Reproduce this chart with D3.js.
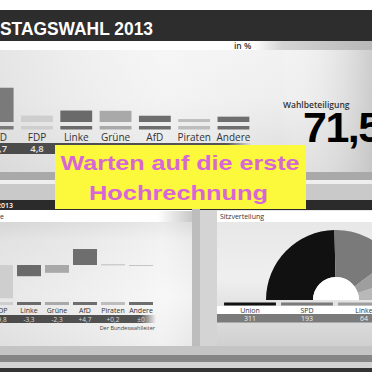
<!DOCTYPE html>
<html>
<head>
<meta charset="utf-8">
<script src="https://cdn.jsdelivr.net/npm/d3@7"></script>
<style>
  body { margin: 0; background: #fff; overflow: hidden; }
  svg { display: block; }
</style>
</head>
<body>
<div id="chart"></div>
<script>
// Data
const parties = ["CDU/CSU", "SPD", "FDP", "Linke", "Grüne", "AfD", "Piraten", "Andere"];
const shares = [41.5, 25.7, 4.8, 8.6, 8.4, 4.7, 2.2, 4.0];
const shareLabels = ["41,5", "25,7", "4,8", "8,6", "8,4", "4,7", "2,2", "4,0"];
const changes = [7.7, 2.7, -9.8, -3.3, -2.3, 4.7, 0.2, 0];
const changeLabels = ["+7,7", "+2,7", "-9,8", "-3,3", "-2,3", "+4,7", "+0,2", "±0"];
const seatParties = ["Union", "SPD", "Linke", "Grüne"];
const seats = [311, 193, 64, 63];
const turnout = "71,5";

const partyColor = d3.scaleOrdinal(parties,
  ["#222", "#7a7a7a", "#cecece", "#6a6a6a", "#a9a9a9", "#6e6e6e", "#bdbdbd", "#6e6e6e"]);
const seatColor = d3.scaleOrdinal(seatParties, ["#111", "#7a7a7a", "#9e9e9e", "#b8b8b8"]);

const W = 372, H = 372;
const font = "'Open Sans', 'Liberation Sans', sans-serif";
const svg = d3.select("#chart").append("svg").attr("width", W).attr("height", H);
const defs = svg.append("defs");

function linGrad(id, stops, vertical) {
  const g = defs.append("linearGradient").attr("id", id)
    .attr("x1", 0).attr("y1", 0)
    .attr("x2", vertical ? 0 : 1).attr("y2", vertical ? 1 : 0);
  stops.forEach(([o, c, a]) => g.append("stop")
    .attr("offset", o).attr("stop-color", c).attr("stop-opacity", a == null ? 1 : a));
}
linGrad("topV", [[0, "#f3f3f3"], [0.45, "#eeeeee"], [1, "#dcdcdc"]], true);
linGrad("topH", [[0, "#d8d8d8", 0.5], [0.45, "#ffffff", 0.3], [0.75, "#ffffff", 0], [1, "#bdbdbd", 0.7]]);
linGrad("pctStrip", [[0, "#fff"], [0.68, "#fff"], [0.76, "#d4d4d4"], [1, "#b8b8b8"]]);
linGrad("valBand", [[0, "#4a4a4a"], [0.9, "#555"], [1, "#555", 0]]);
linGrad("subStrip", [[0, "#fff"], [0.82, "#fff"], [1, "#c8c8c8"]]);
linGrad("lowV", [[0, "#d2d2d2"], [0.15, "#e6e6e6"], [0.6, "#f0f0f0"], [1, "#e2e2e2"]], true);
linGrad("lowH", [[0, "#dcdcdc", 0.4], [0.85, "#fff", 0.5], [1, "#ffffff", 0.2]]);
linGrad("seatV", [[0, "#e6e6e6"], [0.5, "#efefef"], [1, "#d0d0d0"]], true);

// ---- backgrounds
svg.append("rect").attr("width", W).attr("height", H).attr("fill", "#fff");
svg.append("rect").attr("y", 10).attr("width", W).attr("height", 31).attr("fill", "#2d2d2d");
// title: only "...STAGSWAHL 2013" is in view, ending at x = 153
const title = svg.append("text").attr("y", 35)
  .attr("font-family", "'Liberation Sans', Arial, sans-serif").attr("font-weight", "bold")
  .attr("font-size", 18.5).attr("fill", "#fff").text("BUNDESTAGSWAHL 2013");
const titleNode = title.node();
const fullLen = titleNode.getComputedTextLength();
const hiddenLen = titleNode.getSubStringLength(0, 5);
const k = 153 / (fullLen - hiddenLen);
title.attr("x", -hiddenLen * k).attr("textLength", fullLen * k).attr("lengthAdjust", "spacingAndGlyphs");

svg.append("rect").attr("y", 41).attr("width", W).attr("height", 131).attr("fill", "url(#topV)");
svg.append("rect").attr("y", 41).attr("width", W).attr("height", 131).attr("fill", "url(#topH)");
svg.append("rect").attr("y", 41).attr("width", W).attr("height", 9).attr("fill", "url(#pctStrip)");
svg.append("text").attr("x", 234).attr("y", 49).attr("font-family", font).attr("font-weight", 600)
  .attr("font-size", 8.5).attr("fill", "#333").text("in %");

// separation between panels
svg.append("rect").attr("y", 172).attr("width", W).attr("height", 8).attr("fill", "#a9a9a9");
svg.append("rect").attr("y", 180).attr("width", W).attr("height", 4).attr("fill", "#eeeeee");
svg.append("rect").attr("y", 184).attr("width", W).attr("height", 16).attr("fill", "#c9c9c9");

// ---- top chart: results in %
const xTop = d3.scaleBand().domain(parties).range([-61.3, 253.1])
  .paddingInner(0.19).paddingOuter(0.095);
const yTop = d3.scaleLinear().domain([0, 30]).range([122, 82]);

const topG = svg.append("g");
topG.selectAll(".bar").data(parties).join("rect")
  .attr("x", d => xTop(d)).attr("width", xTop.bandwidth())
  .attr("y", (d, i) => yTop(shares[i]))
  .attr("height", (d, i) => yTop(0) - yTop(shares[i]))
  .attr("fill", d => partyColor(d));
topG.selectAll(".base").data(parties).join("rect")
  .attr("x", d => xTop(d)).attr("width", xTop.bandwidth())
  .attr("y", 126).attr("height", 3.5).attr("fill", d => partyColor(d));
topG.selectAll(".lab").data(parties).join("text")
  .attr("x", d => xTop(d) + xTop.bandwidth() / 2).attr("y", 141)
  .attr("text-anchor", "middle").attr("font-family", font).attr("font-size", 10)
  .attr("fill", "#333").text(d => d === "CDU/CSU" ? "Union" : d);
topG.append("rect").attr("x", 0).attr("y", 143).attr("width", 252).attr("height", 11)
  .attr("fill", "url(#valBand)");
topG.selectAll(".val").data(parties).join("text")
  .attr("x", d => xTop(d) + xTop.bandwidth() / 2).attr("y", 152)
  .attr("text-anchor", "middle").attr("font-family", font).attr("font-weight", 600)
  .attr("font-size", 9.5).attr("fill", "#e6e6e6").text((d, i) => shareLabels[i]);

// turnout
svg.append("text").attr("x", 283).attr("y", 108).attr("font-family", font).attr("font-weight", 600)
  .attr("font-size", 8.5).attr("fill", "#333").text("Wahlbeteiligung");
svg.append("text").attr("x", 303).attr("y", 142).attr("font-family", "'Liberation Sans', Arial, sans-serif")
  .attr("font-weight", "bold").attr("font-size", 43).attr("letter-spacing", -1.5)
  .attr("fill", "#000").text(turnout);

// ---- lower left panel: gains and losses
svg.append("rect").attr("y", 200).attr("width", 192).attr("height", 10).attr("fill", "#2b2b2b");
svg.append("text").attr("x", 13).attr("y", 208).attr("text-anchor", "end").attr("font-family", font)
  .attr("font-weight", 600).attr("font-size", 7).attr("fill", "#fff")
  .text("Gewinne und Verluste 2013");
svg.append("rect").attr("y", 211).attr("width", 192).attr("height", 11).attr("fill", "url(#subStrip)");
svg.append("text").attr("x", 4).attr("y", 219).attr("text-anchor", "end").attr("font-family", font)
  .attr("font-size", 7).attr("fill", "#333").text("Zweitstimme");
svg.append("rect").attr("y", 222).attr("width", 192).attr("height", 124).attr("fill", "url(#lowV)");
svg.append("rect").attr("y", 222).attr("width", 192).attr("height", 124).attr("fill", "url(#lowH)");
svg.append("rect").attr("x", 192).attr("y", 200).attr("width", 8).attr("height", 146).attr("fill", "#bdbdbd");

const xLow = d3.scaleBand().domain(parties).range([-69, 155])
  .paddingInner(0.143).paddingOuter(0.0714);
const yLow = d3.scaleLinear().domain([-10, 10]).range([299, 231]);

const lowG = svg.append("g");
lowG.selectAll(".bar").data(parties).join("rect")
  .attr("x", d => xLow(d)).attr("width", xLow.bandwidth())
  .attr("y", (d, i) => Math.min(yLow(changes[i]), yLow(0)))
  .attr("height", (d, i) => Math.max(1, Math.abs(yLow(changes[i]) - yLow(0))))
  .attr("fill", d => partyColor(d))
  .attr("opacity", (d, i) => changes[i] === 0 ? 0.35 : 1);
lowG.selectAll(".base").data(parties).join("rect")
  .attr("x", d => xLow(d)).attr("width", xLow.bandwidth())
  .attr("y", 302).attr("height", 3).attr("fill", d => partyColor(d));
lowG.selectAll(".lab").data(parties).join("text")
  .attr("x", d => xLow(d) + xLow.bandwidth() / 2).attr("y", 313)
  .attr("text-anchor", "middle").attr("font-family", font).attr("font-size", 7)
  .attr("fill", "#333").text(d => d === "CDU/CSU" ? "Union" : d);
lowG.append("rect").attr("x", 0).attr("y", 315).attr("width", 156).attr("height", 8)
  .attr("fill", "url(#valBand)");
lowG.selectAll(".val").data(parties).join("text")
  .attr("x", d => xLow(d) + xLow.bandwidth() / 2).attr("y", 321.5)
  .attr("text-anchor", "middle").attr("font-family", font).attr("font-size", 6.5)
  .attr("fill", "#ddd").text((d, i) => changeLabels[i]);
svg.append("text").attr("x", 155).attr("y", 330).attr("text-anchor", "end").attr("font-family", font)
  .attr("font-size", 5.5).attr("fill", "#444").text("Der Bundeswahlleiter");

// ---- lower right panel: seats
svg.append("rect").attr("x", 200).attr("y", 200).attr("width", 172).attr("height", 10).attr("fill", "#2b2b2b");
svg.append("rect").attr("x", 200).attr("y", 210).attr("width", 172).attr("height", 136).attr("fill", "url(#seatV)");
svg.append("rect").attr("x", 200).attr("y", 210).attr("width", 17).attr("height", 136).attr("fill", "#d4d4d4");
svg.append("rect").attr("x", 217).attr("y", 211).attr("width", 155).attr("height", 11).attr("fill", "#fff");
svg.append("text").attr("x", 220).attr("y", 219).attr("font-family", font).attr("font-size", 7)
  .attr("fill", "#333").text("Sitzverteilung");

const pie = d3.pie().sort(null).startAngle(-Math.PI / 2).endAngle(Math.PI / 2);
const arc = d3.arc().innerRadius(23).outerRadius(70);
const seatG = svg.append("g").attr("transform", "translate(336,300)");
seatG.selectAll("path").data(pie(seats)).join("path")
  .attr("d", arc).attr("fill", (d, i) => seatColor(seatParties[i]));
seatG.append("path").attr("d", d3.arc().innerRadius(0).outerRadius(23)
  .startAngle(-Math.PI / 2).endAngle(Math.PI / 2)()).attr("fill", "#fff");

const xSeat = d3.scaleBand().domain(seatParties).range([221.5, 449.5]).paddingInner(0.09).paddingOuter(0.045);
svg.append("rect").attr("x", 217).attr("y", 306).attr("width", 155).attr("height", 8).attr("fill", "#fff");
svg.append("rect").attr("x", 217).attr("y", 314).attr("width", 155).attr("height", 8.5).attr("fill", "#7b7b7b");
svg.selectAll(".seatBase").data(seatParties).join("rect")
  .attr("x", d => xSeat(d)).attr("width", xSeat.bandwidth())
  .attr("y", 302.5).attr("height", 3).attr("fill", d => seatColor(d));
svg.selectAll(".seatLab").data(seatParties).join("text")
  .attr("x", d => xSeat(d) + xSeat.bandwidth() / 2).attr("y", 312.5)
  .attr("text-anchor", "middle").attr("font-family", font).attr("font-size", 7)
  .attr("fill", "#333").text(d => d);
svg.selectAll(".seatVal").data(seatParties).join("text")
  .attr("x", d => xSeat(d) + xSeat.bandwidth() / 2).attr("y", 320.5)
  .attr("text-anchor", "middle").attr("font-family", font).attr("font-size", 7)
  .attr("fill", "#eee").text((d, i) => seats[i]);

// ---- bottom frame
svg.append("rect").attr("y", 346).attr("width", W).attr("height", 9).attr("fill", "#c4c4c4");
svg.append("rect").attr("y", 355).attr("width", W).attr("height", 7).attr("fill", "#858585");
svg.append("rect").attr("y", 362).attr("width", W).attr("height", 6).attr("fill", "#d2d2d2");
svg.append("rect").attr("y", 368).attr("width", W).attr("height", 4).attr("fill", "#333");

// ---- overlay box
svg.append("rect").attr("x", 55).attr("y", 145).attr("width", 251).attr("height", 64).attr("fill", "#fcf83c");
const msg = svg.append("g").attr("font-family", "'Liberation Sans', Arial, sans-serif")
  .attr("font-weight", "bold").attr("font-size", 21).attr("fill", "#d766d6").attr("text-anchor", "middle");
msg.append("text").attr("x", 180).attr("y", 169.5).attr("textLength", 239)
  .attr("lengthAdjust", "spacingAndGlyphs").text("Warten auf die erste");
msg.append("text").attr("x", 178.5).attr("y", 199.5).attr("textLength", 179)
  .attr("lengthAdjust", "spacingAndGlyphs").text("Hochrechnung");
</script>
</body>
</html>
